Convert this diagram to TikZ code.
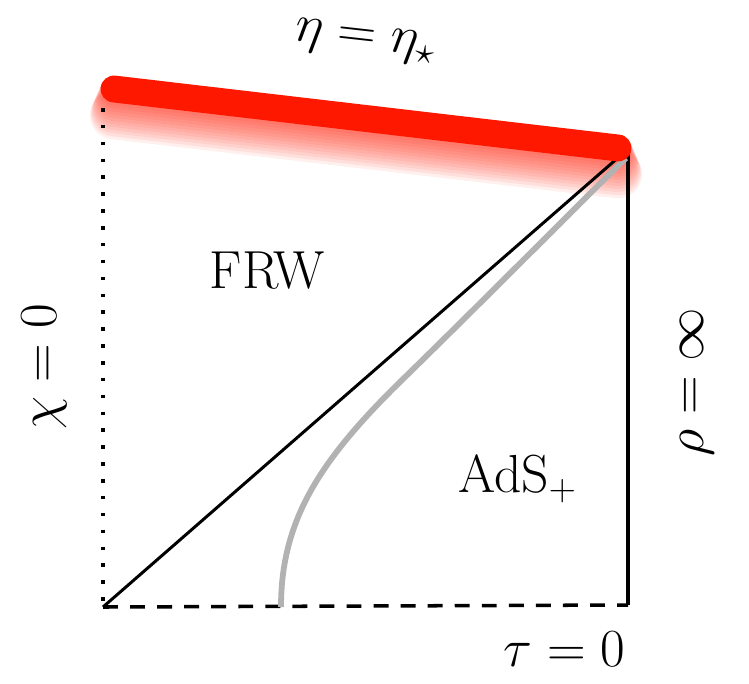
\RequirePackage{fix-cm}
\documentclass[tikz,border=0pt]{standalone}
\usepackage{fontspec}
\begin{document}
\begin{tikzpicture}[x=0.02cm,y=-0.02cm,
  lbl/.style={inner sep=0pt,font=\fontsize{30.5}{34}\selectfont},
  edge/.style={line width=1.7pt,black},
  redline/.style={line width=15.3pt,line cap=round,color=myred}]
\definecolor{myred}{RGB}{255,24,0}
\useasboundingbox (0,0) rectangle (749,683);
\coordinate (BL) at (103,607);
\coordinate (BR) at (628,605);
\coordinate (TR) at (628,149);
\coordinate (TL) at (103,108);
\coordinate (RA) at (114,89);
\coordinate (RB) at (618,148);
\coordinate (G0) at (281,607);
\coordinate (G1) at (402,380);
\coordinate (G2) at (626,158);
% glow
\foreach \k in {1,...,12} {
  \draw[line width=15.3pt+\k*1.0pt,line cap=round,color=myred,opacity=0.07]
    ([yshift=-\k*1.25pt]RA) -- ([yshift=-\k*1.25pt]RB);
}
% edges
\draw[edge,line width=2.1pt,dash pattern=on 2pt off 7.6pt] (TL) -- (BL);
\draw[edge,line width=2pt,dash pattern=on 8.5pt off 6.9pt] (BL) -- (BR);
\draw[edge,line width=1.9pt] (BR) -- (TR);
\draw[line width=3.3pt,color=black!30]
  (G0) .. controls (281,520) and (320,460) .. (G1)
       .. controls (480,304) and (590,193) .. (G2);
\draw[edge] (BL) -- (TR);
\draw[redline] (RA) -- (RB);
% labels
\node[lbl,rotate=-6.4] (eta) at (365,42) {$\eta=\eta_\star$};
\node[lbl] (frw) at (267,271) {FRW};
\node[lbl,rotate=90] (chi) at (44,367) {$\chi=0$};
\node[lbl,rotate=90] (rho) at (697,382) {$\rho=\infty$};
\node[lbl,anchor=base west] (ads) at (458,492) {AdS$_+$};
\node[lbl,anchor=base east] (tau) at (626,666) {$\tau=0$};
\end{tikzpicture}
\end{document}
